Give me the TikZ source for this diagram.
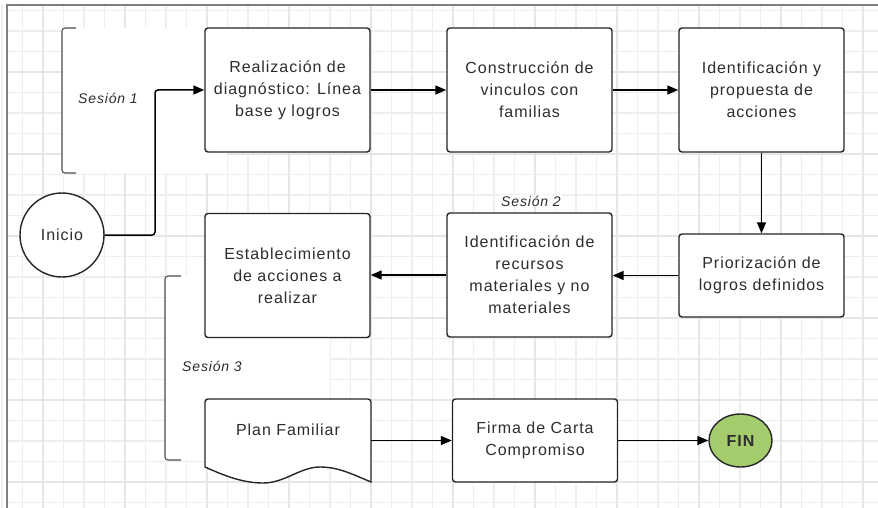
\documentclass[tikz,border=0pt]{standalone}
\usepackage{fontspec}
\setmainfont{Liberation Sans}
\newfontfamily\boxfont[LetterSpace=6]{Liberation Sans}
\usetikzlibrary{arrows.meta,shapes.geometric}
\definecolor{gridminor}{RGB}{238,238,238}
\definecolor{gridmajor}{RGB}{230,230,230}
\definecolor{framegray}{RGB}{128,128,128}
\definecolor{fingreen}{RGB}{164,204,108}
\definecolor{txtgray}{RGB}{45,45,45}
\tikzset{
  procbox/.style={draw=black!85, line width=1.4pt, rounded corners=3pt, fill=white,
    align=center, text=txtgray, font=\boxfont\fontsize{16}{22}\selectfont,
    minimum width=165pt, minimum height=124pt, inner sep=0pt},
  shortbox/.style={procbox, minimum height=83pt},
  arr/.style={draw=black, line width=1.5pt, -{Triangle[length=11pt,width=9pt]}},
  bracketline/.style={draw=black!70, line width=1.1pt, rounded corners=3pt},
  sessiontxt/.style={font=\boxfont\fontsize{14}{16}\selectfont\itshape, text=txtgray, inner sep=1pt},
  plainline/.style={draw=black, line width=1.3pt}
}
\begin{document}
\begin{tikzpicture}[x=1pt,y=-1pt]
\useasboundingbox (0,0) rectangle (878,508);
\fill[white] (0,0) rectangle (878,508);
% grid
\foreach \k in {0,...,42} {
  \pgfmathsetmacro{\gx}{2+20.5*\k}
  \draw[gridminor, line width=1.8pt] (\gx,5) -- (\gx,508);
}
\foreach \k in {0,...,24} {
  \pgfmathsetmacro{\gy}{10.5+20.5*\k}
  \draw[gridminor, line width=1.8pt] (7,\gy) -- (878,\gy);
}
\foreach \k in {0,...,10} {
  \pgfmathsetmacro{\gx}{43+82*\k}
  \draw[gridmajor, line width=2.8pt] (\gx,5) -- (\gx,508);
}
\foreach \k in {0,...,5} {
  \pgfmathsetmacro{\gy}{72+82*\k}
  \draw[gridmajor, line width=2.8pt] (7,\gy) -- (878,\gy);
}
% frame
\draw[framegray, line width=2pt] (7,508) -- (7,5) -- (878,5);

% session areas
\fill[white] (62,28) rectangle (227,173);
\draw[bracketline] (76,28) -- (62,28) -- (62,173) -- (76,173);
\node[sessiontxt] (s1) at (108,98) {Sesión 1};

\fill[white] (165,276) rectangle (330,460);
\draw[bracketline] (181,276) -- (165,276) -- (165,460) -- (181,460);
\node[sessiontxt] (s3) at (212,366) {Sesión 3};

\node[sessiontxt, fill=white] (s2) at (531,201) {Sesión 2};

% nodes
\node[procbox] (r1) at (287.5,90) {Realización de\\diagnóstico: Línea\\base y logros};
\node[procbox] (r2) at (529.5,90) {Construcción de\\vinculos con\\familias};
\node[procbox] (r3) at (761.5,90) {Identificación y\\propuesta de\\acciones};
\node[shortbox] (r4) at (761.5,275.5) {Priorización de\\logros definidos};
\node[procbox] (r5) at (529.5,275) {Identificación de\\recursos\\materiales y no\\materiales};
\node[procbox] (r6) at (287.5,275.5) {Establecimiento\\de acciones a\\realizar};
\node[shortbox] (r8) at (535,440.5) {Firma de Carta\\Compromiso};

\node[circle, draw=black!85, line width=1.4pt, fill=white, minimum size=84pt, inner sep=0pt,
  text=txtgray, font=\boxfont\fontsize{16}{18}\selectfont] (inicio) at (62,235) {Inicio};
\node[ellipse, draw=black!85, line width=1.4pt, fill=fingreen, minimum width=63pt, minimum height=53pt,
  inner sep=0pt, text=txtgray, font=\boxfont\fontsize{16}{18}\selectfont\bfseries] (fin) at (740.5,440.5) {FIN};

% document shape
\node[minimum width=166pt, minimum height=83pt, inner sep=0pt] (plan) at (288,440.5) {};
\draw[draw=black!85, line width=1.4pt, fill=white]
  [rounded corners=3pt] (205,467) -- (205,399) -- (371,399) [sharp corners] -- (371,482)
  .. controls (352,474) and (338,467) .. (320,467)
  .. controls (300,467) and (285,483) .. (263,483)
  .. controls (243,483) and (225,476) .. (205,467) -- cycle;
\node[text=txtgray, font=\boxfont\fontsize{16}{18}\selectfont] (plantxt) at (288,430) {Plan Familiar};

% connectors
\coordinate (c1) at (155,90);
\draw[arr, rounded corners=3pt] (inicio.east) -| (c1) -- (r1.west);
\draw[arr] (r1.east) -- (r2.west);
\draw[arr] (r2.east) -- (r3.west);
\draw[arr] (r3.south) -- (r4.north);
\draw[arr] (r4.west) -- (r5.east |- r4.west);
\draw[arr] (r5.west) -- (r6.east |- r5.west);
\draw[arr] (plan.east) -- (r8.west);
\draw[arr] (r8.east) -- (fin.west);
\end{tikzpicture}
\end{document}
